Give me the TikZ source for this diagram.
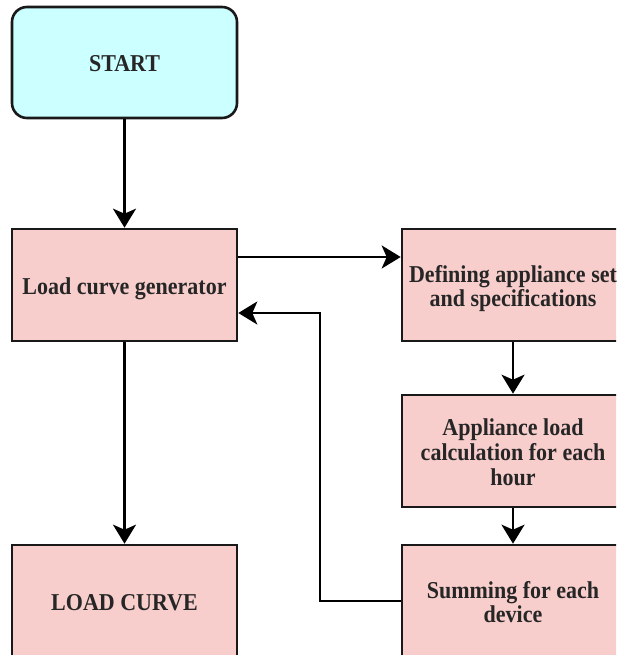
\documentclass[tikz,border=0pt]{standalone}
\usepackage{fontspec}
\setmainfont{Liberation Serif}
\usetikzlibrary{arrows.meta}
\newcommand{\lbl}[1]{\raisebox{-4.5pt}[\height][\depth]{\scalebox{1}[1.1]{\begin{tabular}{@{}c@{}}#1\end{tabular}}}}
\begin{document}
\begin{tikzpicture}[x=1pt,y=-1pt,
  box/.style={draw=black!90,line width=2.6pt,rectangle,fill=pinkf,minimum width=225pt,minimum height=112pt,inner sep=0pt,
    font=\fontsize{22}{22.5}\selectfont\bfseries,text=black!85},
  arr/.style={draw=black,line width=2.6pt,-{Stealth[length=19pt,width=23pt,inset=5pt]}}]
\definecolor{pinkf}{HTML}{F8CECC}
\definecolor{cyanf}{HTML}{CCFFFF}
\useasboundingbox (0,0) rectangle (616,655);
\clip (0,0) rectangle (616,655);
\node[box,fill=cyanf,rounded corners=15pt,minimum height=111pt] (start) at (124.5,62.5) {\lbl{START}};
\node[box] (lcg) at (124.5,285) {\lbl{Load curve generator}};
\node[box,minimum width=222pt] (def) at (513,285) {\lbl{Defining appliance set\\and specifications}};
\node[box,minimum width=222pt] (app) at (513,451) {\lbl{Appliance load\\calculation for each\\hour}};
\node[box,minimum width=222pt] (sum) at (513,601) {\lbl{Summing for each\\device}};
\node[box] (lc) at (124.5,601) {\lbl{LOAD CURVE}};
\coordinate (fb) at (320,313);
\draw[arr] (start) -- (lcg);
\draw[arr] ([yshift=28pt]lcg.east) -- ([yshift=28pt]def.west);
\draw[arr] (def) -- (app);
\draw[arr] (app) -- (sum);
\draw[arr] (sum.west) -| (fb) -- ([yshift=-28pt]lcg.east);
\draw[arr] (lcg) -- (lc);
\end{tikzpicture}
\end{document}
